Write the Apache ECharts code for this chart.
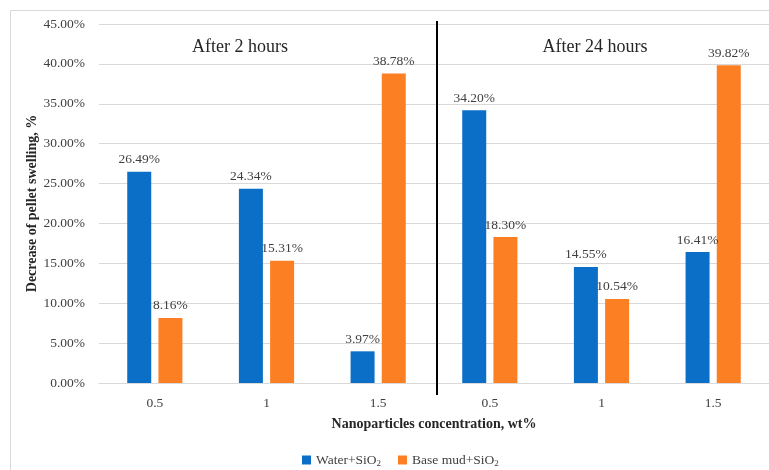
<!DOCTYPE html>
<html>
<head>
<meta charset="utf-8">
<script src="https://cdn.jsdelivr.net/npm/echarts@6/dist/echarts.min.js"></script>
<style>
html,body{margin:0;padding:0;background:#fff;}
#c{width:769px;height:470px;}
</style>
</head>
<body>
<div id="c"></div>
<script>
var categories = ['0.5', '1', '1.5', '0.5', '1', '1.5'];
var waterSiO2 = [26.49, 24.34, 3.97, 34.20, 14.55, 16.41];
var baseMudSiO2 = [8.16, 15.31, 38.78, 18.30, 10.54, 39.82];
var seriesNames = ['Water+SiO2', 'Base mud+SiO2'];
var groupLabels = ['After 2 hours', 'After 24 hours'];
var yTicks = {min: 0, max: 45, interval: 5};

var FONT = '"Liberation Serif", "DejaVu Serif", serif';
var chart = echarts.init(document.getElementById('c'), null, {renderer: 'canvas'});

var labelCfg = {
  show: true, position: 'top', distance: 5,
  fontFamily: FONT, fontSize: 13.5, color: '#404040',
  formatter: function (p) { return p.value.toFixed(2) + '%'; }
};

chart.setOption({
  animation: false,
  backgroundColor: '#fff',
  grid: {left: 99, top: 24, width: 672, height: 359, containLabel: false},
  xAxis: {
    type: 'category', data: categories,
    axisLine: {lineStyle: {color: '#d9d9d9', width: 1}},
    axisTick: {show: false},
    axisLabel: {fontFamily: FONT, fontSize: 13.5, color: '#404040', margin: 13},
    name: 'Nanoparticles concentration, wt%',
    nameLocation: 'middle', nameGap: 34,
    nameTextStyle: {fontFamily: FONT, fontSize: 14, fontWeight: 'bold', color: '#262626'}
  },
  yAxis: {
    type: 'value', min: yTicks.min, max: yTicks.max, interval: yTicks.interval,
    axisLine: {show: false}, axisTick: {show: false},
    splitLine: {lineStyle: {color: '#d9d9d9', width: 1}},
    axisLabel: {fontFamily: FONT, fontSize: 13.5, color: '#404040', margin: 14,
      formatter: function (v) { return v.toFixed(2) + '%'; }},
    name: 'Decrease of pellet swelling, %',
    nameLocation: 'middle', nameGap: 60, nameRotate: 90, nameMoveOverlap: false,
    nameTextStyle: {fontFamily: FONT, fontSize: 14, fontWeight: 'bold', color: '#262626'}
  },
  legend: {
    left: 297, top: 448, itemWidth: 9, itemHeight: 9, itemGap: 17,
    icon: 'rect',
    data: seriesNames,
    formatter: function (n) { return '{a|' + n.slice(0, -1) + '}{s|' + n.slice(-1) + '}'; },
    textStyle: {fontFamily: FONT, fontSize: 13.5, color: '#404040',
      rich: {a: {fontFamily: FONT, fontSize: 13.5, color: '#404040'},
             s: {fontFamily: FONT, fontSize: 9, color: '#404040', padding: [7, 0, 0, 0]}}}
  },
  series: [
    {name: seriesNames[0], type: 'bar', data: waterSiO2, barWidth: 24, barGap: '30%',
     itemStyle: {color: '#0B6FC8'}, label: labelCfg},
    {name: seriesNames[1], type: 'bar', data: baseMudSiO2, barWidth: 24, barGap: '30%',
     itemStyle: {color: '#FD7F24'}, label: labelCfg}
  ]
});

var x2 = chart.convertToPixel({xAxisIndex: 0}, 2);
var x3 = chart.convertToPixel({xAxisIndex: 0}, 3);
var sepX = Math.round((x2 + x3) / 2) + 3;
var yTop = chart.convertToPixel({yAxisIndex: 0}, yTicks.max);
var yBot = chart.convertToPixel({yAxisIndex: 0}, yTicks.min);

chart.setOption({
  graphic: [
    {type: 'rect', silent: true, z: -1,
     shape: {x: 10.5, y: 10.5, width: 800, height: 500},
     style: {fill: 'none', stroke: '#d9d9d9', lineWidth: 1}},
    {type: 'line', silent: true, z: 10,
     shape: {x1: sepX, y1: yTop - 3, x2: sepX, y2: yBot + 12},
     style: {stroke: '#000', lineWidth: 2}},
    {type: 'text', silent: true, x: 240, y: 47,
     style: {text: groupLabels[0], font: '18px ' + FONT, fill: '#262626', textAlign: 'center', textVerticalAlign: 'middle'}},
    {type: 'text', silent: true, x: 595, y: 47,
     style: {text: groupLabels[1], font: '18px ' + FONT, fill: '#262626', textAlign: 'center', textVerticalAlign: 'middle'}}
  ]
});
</script>
</body>
</html>
